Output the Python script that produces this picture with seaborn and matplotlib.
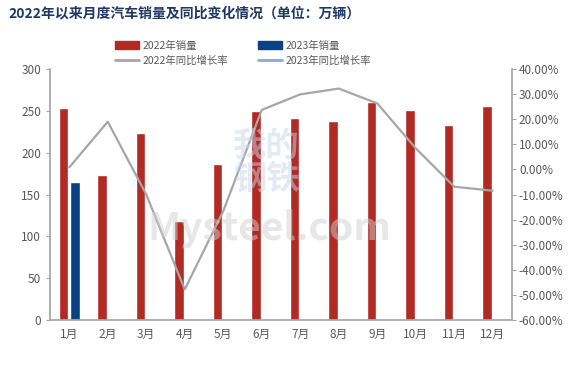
import numpy as np
import pandas as pd
import seaborn as sns
import matplotlib.pyplot as plt
from matplotlib.patches import Patch
from matplotlib.lines import Line2D

# data
months = ["1月", "2月", "3月", "4月", "5月", "6月", "7月", "8月", "9月", "10月", "11月", "12月"]
sales_2022 = [253, 173, 223, 118, 186, 250, 242, 238, 260, 251, 233, 256]
sales_2023 = [164.5]
yoy_2022 = [0.8, 19.0, -10.0, -47.8, -16.6, 23.7, 29.9, 32.2, 26.3, 8.4, -6.9, -8.5]
yoy_2023 = [np.nan]

red = "#B22A24"
blue = "#0B3F86"
gray_line = "#A6A6A6"
blue_line = "#8EA9DB"
txt = "#595959"
axis_c = "#A6A6A6"

sns.set_theme(style="white")
plt.rcParams["font.family"] = ["Noto Sans CJK SC", "DejaVu Sans"]

df = pd.DataFrame({
    "month": months + months[:len(sales_2023)],
    "sales": sales_2022 + sales_2023,
    "series": ["2022年销量"] * len(months) + ["2023年销量"] * len(sales_2023),
})

fig = plt.figure(figsize=(5.86, 3.75), dpi=100)
ax = fig.add_axes([50 / 586, 1 - 320 / 375, 462 / 586, 251 / 375])

sns.barplot(data=df, x="month", y="sales", hue="series", order=months,
            hue_order=["2022年销量", "2023年销量"], palette=[red, blue],
            width=0.6, gap=0.15, dodge=True, legend=False, ax=ax, saturation=1)
ax.set_xlim(-0.5, len(months) - 0.5)
ax.set_ylim(0, 300)
ax.set_yticks(range(0, 301, 50))
ax.set_xlabel("")
ax.set_ylabel("")

# watermark
fig.text(0.46, 1 - 228 / 375, "Mysteel.com", fontsize=28, color="#D0D0D0", alpha=0.5,
         ha="center", va="center", fontweight="bold", zorder=0)
fig.text(0.455, 1 - 163 / 375, "我的\n钢铁", fontsize=24, color="#C9D6EA", alpha=0.5,
         ha="center", va="center", fontweight="bold", linespacing=1.0, zorder=0)

ax2 = ax.twinx()
x_idx = list(range(len(months)))
sns.lineplot(x=x_idx, y=yoy_2022, color=gray_line, linewidth=1.6, ax=ax2, sort=False)
sns.lineplot(x=x_idx[:len(yoy_2023)], y=yoy_2023, color=blue_line, linewidth=1.6, ax=ax2, sort=False)
ax2.set_ylim(-60, 40)
ax2.set_yticks(range(-60, 41, 10))
ax2.set_yticklabels([f"{v:.2f}%" for v in range(-60, 41, 10)])
ax2.set_xlim(-0.5, len(months) - 0.5)

for a in (ax, ax2):
    for s in a.spines.values():
        s.set_visible(False)
    a.tick_params(colors=txt, labelsize=8.5, length=3, width=0.8, color=axis_c)
ax.spines["left"].set_visible(True)
ax.spines["left"].set_color(axis_c)
ax.spines["bottom"].set_visible(True)
ax.spines["bottom"].set_color(axis_c)
ax2.spines["right"].set_visible(True)
ax2.spines["right"].set_color(axis_c)
ax.tick_params(axis="x", length=0, pad=6)
ax.tick_params(axis="y", left=True, direction="out")
ax2.tick_params(axis="y", right=True, direction="out", pad=2)

fig.text(8 / 586, 1 - 14 / 375, "2022年以来月度汽车销量及同比变化情况（单位：万辆）",
         fontsize=10, fontweight="bold", color="#1F3864", ha="left", va="center")

handles = [Patch(color=red), Line2D([], [], color=gray_line, lw=2),
           Patch(color=blue), Line2D([], [], color=blue_line, lw=2)]
labels = ["2022年销量", "2022年同比增长率", "2023年销量", "2023年同比增长率"]
fig.legend(handles, labels, ncol=2, loc="center", bbox_to_anchor=(243 / 586, 1 - 53 / 375),
           frameon=False, fontsize=7.5, labelcolor=txt, handlelength=2.3,
           handleheight=0.8, columnspacing=2.8, labelspacing=0.45, handletextpad=0.4)

fig.savefig("out.png", dpi=100)
